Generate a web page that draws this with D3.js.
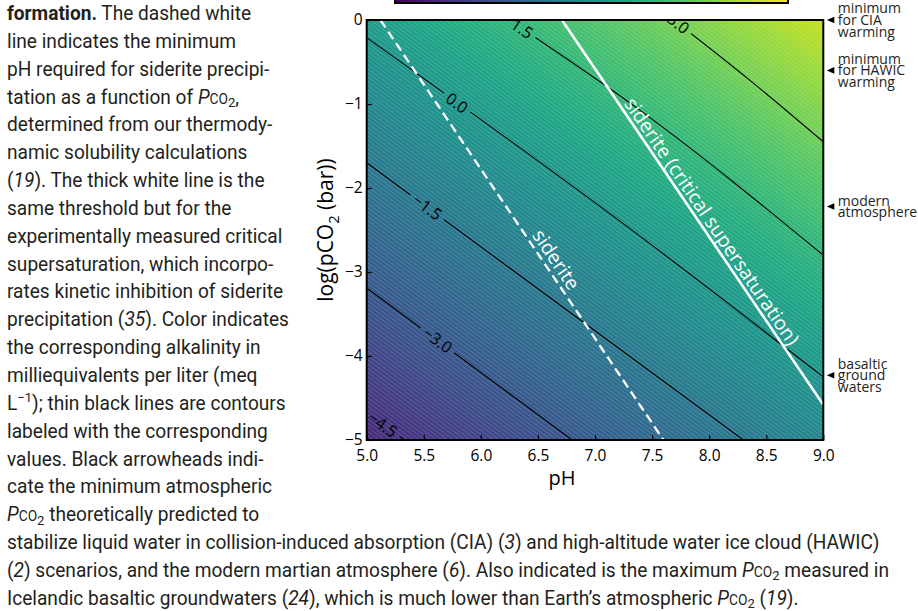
<!DOCTYPE html>
<html>
<head>
<meta charset="utf-8">
<script src="https://cdn.jsdelivr.net/npm/d3@7"></script>
<style>
  body { margin: 0; background: #fff; }
  svg { display: block; }
  .cap { font-family: Roboto, sans-serif; font-size: 20px; fill: #231f20; white-space: pre; }
  .lab { font-family: "Open Sans", sans-serif; }
</style>
</head>
<body>
<svg id="fig" width="918" height="611"></svg>
<script>
// ---- data ----
const xTicks = [5.0, 5.5, 6.0, 6.5, 7.0, 7.5, 8.0, 8.5, 9.0];
const yTicks = [0, -1, -2, -3, -4, -5];
const colorbarRange = [-6.2, 5.5];         // log10 alkalinity (meq/L)
const contourLevels = [-4.5, -3.0, -1.5, 0.0, 1.5, 3.0];
const contourPH = [[5.0, 5.33], [5.0, 6.80], [5.0, 8.30], [5.0, 7.42, 9.0], [6.25, 7.39, 9.0], [7.69, 8.35, 9.0]];
const contourLogP = [[-4.68, -5.0], [-3.19, -5.0], [-1.70, -5.0], [-0.21, -2.60, -4.25], [0.0, -1.07, -2.80], [0.0, -0.71, -1.45]];
const contourLabelPH = [5.14, 5.62, 5.53, 5.79, 6.36, 7.73];
const sideritePH = [5.12, 7.60], sideriteLogP = [0, -5];
const criticalPH = [6.71, 9.0], criticalLogP = [0, -4.58];
const sideriteLabelLogP = -2.93, criticalLabelLogP = -2.47;
const markerLogP = [0, -0.6, -2.22, -4.23];
const markerText = [["minimum", "for CIA", "warming"], ["minimum", "for HAWIC", "warming"],
                    ["modern", "atmosphere"], ["basaltic", "ground", "waters"]];

const leftCaption = [
  "**formation.** The dashed white",
  "line indicates the minimum",
  "pH required for siderite precipi-",
  "tation as a function of PCO2,",
  "determined from our thermody-",
  "namic solubility calculations",
  "(*19*). The thick white line is the",
  "same threshold but for the",
  "experimentally measured critical",
  "supersaturation, which incorpo-",
  "rates kinetic inhibition of siderite",
  "precipitation (*35*). Color indicates",
  "the corresponding alkalinity in",
  "milliequivalents per liter (meq",
  "L^−1^); thin black lines are contours",
  "labeled with the corresponding",
  "values. Black arrowheads indi-",
  "cate the minimum atmospheric",
  "PCO2 theoretically predicted to"
];
const bottomCaption = [
  "stabilize liquid water in collision-induced absorption (CIA) (*3*) and high-altitude water ice cloud (HAWIC)",
  "(*2*) scenarios, and the modern martian atmosphere (*6*). Also indicated is the maximum PCO2 measured in",
  "Icelandic basaltic groundwaters (*24*), which is much lower than Earth’s atmospheric PCO2 (*19*)."
];

// ---- layout ----
const svg = d3.select("#fig");
const defs = svg.append("defs");
const L = 366.7, R = 823.3, T = 20, B = 440;
const x = d3.scaleLinear().domain([5, 9]).range([L, R]);
const y = d3.scaleLinear().domain([-5, 0]).range([B, T]);
const color = d3.scaleSequential(d3.interpolateViridis).domain(colorbarRange);

defs.append("clipPath").attr("id", "plotclip")
  .append("rect").attr("x", L).attr("y", T).attr("width", R - L).attr("height", B - T);

// colour field: gradient across the contour direction, anchored on the contour lines
const ddx = x(6) - x(5), ddy = y(-1) - y(0);
const len = Math.hypot(ddx, ddy);
const nx = ddy / len, ny = -ddx / len;
const contours = contourPH.map((ph, i) => ph.map((p, j) => [p, contourLogP[i][j]]));
const projs = contours.map(c => d3.mean(c, d => x(d[0]) * nx + y(d[1]) * ny));
const levelToProj = d3.scaleLinear().domain(contourLevels).range(projs);
const p0 = levelToProj(colorbarRange[0]), p1 = levelToProj(colorbarRange[1]);
const field = defs.append("linearGradient").attr("id", "field")
  .attr("gradientUnits", "userSpaceOnUse")
  .attr("x1", nx * p0).attr("y1", ny * p0).attr("x2", nx * p1).attr("y2", ny * p1);
const stopVals = Array.from(new Set(d3.range(colorbarRange[0], colorbarRange[1] + 1e-9, 0.25).concat(contourLevels))).sort((a, b) => a - b);
stopVals.forEach(v => {
  field.append("stop").attr("offset", (levelToProj(v) - p0) / (p1 - p0)).attr("stop-color", color(v));
});

const stripeAngle = Math.atan2(ddy, ddx) * 180 / Math.PI;
const stripes = defs.append("pattern").attr("id", "stripes")
  .attr("patternUnits", "userSpaceOnUse").attr("width", 8).attr("height", 3.4)
  .attr("patternTransform", `rotate(${stripeAngle})`);
stripes.append("rect").attr("width", 8).attr("height", 0.7).attr("fill", "#fff").attr("fill-opacity", 0.2);

const plot = svg.append("g").attr("clip-path", "url(#plotclip)");
plot.append("rect").attr("x", L).attr("y", T).attr("width", R - L).attr("height", B - T).attr("fill", "url(#field)");
plot.append("rect").attr("x", L).attr("y", T).attr("width", R - L).attr("height", B - T).attr("fill", "url(#stripes)");

// contour labels (placed first to measure, then gaps masked out of lines)
function pointAt(c, ph) {
  let k = 0;
  while (k < c.length - 2 && ph > c[k + 1][0]) k++;
  const a = c[k], b = c[k + 1];
  const t = (ph - a[0]) / (b[0] - a[0]);
  const px = x(ph), py = y(a[1] + t * (b[1] - a[1]));
  const ang = Math.atan2(y(b[1]) - y(a[1]), x(b[0]) - x(a[0])) * 180 / Math.PI;
  return [px, py, ang];
}
const mask = defs.append("mask").attr("id", "gaps").attr("maskUnits", "userSpaceOnUse")
  .attr("x", 0).attr("y", 0).attr("width", 918).attr("height", 611);
mask.append("rect").attr("width", 918).attr("height", 611).attr("fill", "#fff");

const lineGen = d3.line().x(d => x(d[0])).y(d => y(d[1]));
const contourGen = d3.line().x(d => x(d[0])).y(d => y(d[1])).curve(d3.curveMonotoneX);
plot.append("g").attr("mask", "url(#gaps)")
  .selectAll("path").data(contours).join("path")
  .attr("d", contourGen).attr("fill", "none").attr("stroke", "#000").attr("stroke-width", 1.1);

const fmt1 = d3.format(".1f");
contours.forEach((c, i) => {
  const [px, py, ang] = pointAt(c, contourLabelPH[i]);
  const t = plot.append("text").attr("class", "lab")
    .attr("transform", `translate(${px},${py}) rotate(${ang})`)
    .attr("text-anchor", "middle").attr("dy", "0.35em")
    .attr("font-size", 16).attr("fill", "#000")
    .text(fmt1(contourLevels[i]));
  const w = t.node().getComputedTextLength() + 10;
  mask.append("rect").attr("x", -w / 2).attr("y", -8).attr("width", w).attr("height", 16)
    .attr("transform", `translate(${px},${py}) rotate(${ang})`).attr("fill", "#000");
});

// siderite thresholds
const sid = sideritePH.map((p, j) => [p, sideriteLogP[j]]);
const crit = criticalPH.map((p, j) => [p, criticalLogP[j]]);
plot.append("path").attr("d", lineGen(sid)).attr("fill", "none")
  .attr("stroke", "#fff").attr("stroke-width", 2.3).attr("stroke-dasharray", "9,5");
plot.append("path").attr("d", lineGen(crit)).attr("fill", "none")
  .attr("stroke", "#fff").attr("stroke-width", 2.6);

function lineLabel(seg, logP, txt, off) {
  const a = seg[0], b = seg[1];
  const t = (logP - a[1]) / (b[1] - a[1]);
  const ph = a[0] + t * (b[0] - a[0]);
  const ang = Math.atan2(y(b[1]) - y(a[1]), x(b[0]) - x(a[0])) * 180 / Math.PI;
  plot.append("text").attr("class", "lab")
    .attr("transform", `translate(${x(ph)},${y(logP)}) rotate(${ang})`)
    .attr("y", -off).attr("text-anchor", "middle")
    .attr("font-size", 19.5).attr("fill", "#fff").text(txt);
}
lineLabel(sid, sideriteLabelLogP, "siderite", 5);
lineLabel(crit, criticalLabelLogP, "siderite (critical supersaturation)", 4);

// frame and axes
svg.append("rect").attr("x", L).attr("y", T).attr("width", R - L).attr("height", B - T)
  .attr("fill", "none").attr("stroke", "#000").attr("stroke-width", 2);

const xAxis = svg.append("g").attr("transform", `translate(0,${B})`)
  .call(d3.axisBottom(x).tickValues(xTicks).tickSize(-5).tickPadding(10).tickFormat(fmt1));
const yAxis = svg.append("g").attr("transform", `translate(${L},0)`)
  .call(d3.axisLeft(y).tickValues(yTicks).tickSize(-5).tickPadding(4).tickFormat(d3.format("d")));
[xAxis, yAxis].forEach(g => {
  g.select(".domain").remove();
  g.selectAll(".tick line").attr("stroke", "#000").attr("stroke-width", 1.2);
  g.selectAll(".tick text").attr("class", "lab").attr("font-size", 15.5).attr("fill", "#000");
});

svg.append("text").attr("class", "lab").attr("x", (L + R) / 2 - 33).attr("y", 485)
  .attr("text-anchor", "middle").attr("font-size", 20).attr("fill", "#000").text("pH");
const yl = svg.append("text").attr("class", "lab")
  .attr("transform", `translate(333,230) rotate(-90)`)
  .attr("text-anchor", "middle").attr("font-size", 21).attr("fill", "#000");
yl.append("tspan").text("log(pCO");
yl.append("tspan").attr("font-size", "0.7em").attr("dy", 6).text("2");
yl.append("tspan").attr("dy", -6).text(" (bar))");

// colour bar (cut at the top of the page)
const cbg = defs.append("linearGradient").attr("id", "cbar");
d3.range(0, 1.0001, 0.05).forEach(t => {
  cbg.append("stop").attr("offset", t).attr("stop-color", d3.interpolateViridis(t));
});
svg.append("rect").attr("x", 395).attr("y", -30)
  .attr("width", 393).attr("height", 33)
  .attr("fill", "url(#cbar)").attr("stroke", "#000").attr("stroke-width", 2);

// arrowheads on the right axis
const mk = svg.append("g");
markerLogP.forEach((v, i) => {
  const yy = y(v);
  mk.append("path").attr("d", `M${R + 3.5},${yy} L${R + 11},${yy - 3.3} L${R + 11},${yy + 3.3} Z`).attr("fill", "#000");
  const lines = markerText[i];
  const txt = mk.append("text").attr("class", "lab").attr("font-size", 14).attr("fill", "#231f20");
  lines.forEach((s, k) => {
    txt.append("tspan").attr("x", R + 14.5)
      .attr("y", yy + 5 + (k - (lines.length - 1) / 2) * 11.8).text(s);
  });
});

// caption text
const cap = svg.append("g");
function rich(sel, str) {
  const parts = str.split(/(\*\*[^*]+\*\*|\*[^*]+\*|PCO2|\^[^^]+\^)/).filter(s => s);
  let shift = 0;
  const add = (txt, o = {}) => {
    const want = o.shift || 0;
    const ts = sel.append("tspan").text(txt);
    if (want !== shift) { ts.attr("dy", want - shift); shift = want; }
    if (o.weight) ts.attr("font-weight", o.weight);
    if (o.style) ts.attr("font-style", o.style);
    if (o.size) ts.attr("font-size", o.size);
  };
  parts.forEach(p => {
    if (p.startsWith("**")) add(p.slice(2, -2), { weight: "bold" });
    else if (p === "PCO2") {
      add("P", { style: "italic" });
      add("CO", { size: "0.72em" });
      add("2", { size: "0.68em", shift: 3.5 });
    } else if (p.startsWith("*")) add(p.slice(1, -1), { style: "italic" });
    else if (p.startsWith("^")) add(p.slice(1, -1), { size: "0.68em", shift: -8 });
    else add(p);
  });
}
const allCaption = leftCaption.concat(bottomCaption);
const capTexts = allCaption.map((s, i) => {
  const t = cap.append("text").attr("class", "cap").attr("x", 0).attr("y", 20 + 27.85 * i);
  rich(t, s);
  return t;
});
const sx = 873 / capTexts[leftCaption.length].node().getComputedTextLength();
cap.attr("transform", `translate(7,0) scale(${sx},1)`);
</script>
</body>
</html>
